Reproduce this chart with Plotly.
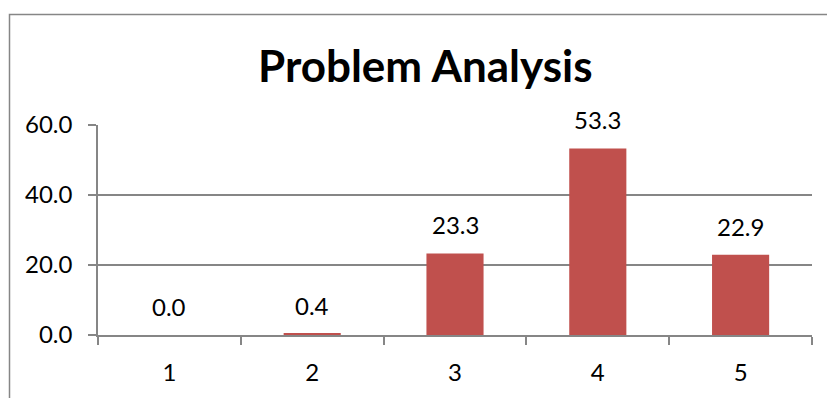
import plotly.graph_objects as go

# Problem analysis scores per category
categories = ["1", "2", "3", "4", "5"]
values = [0.0, 0.4, 23.3, 53.3, 22.9]
y_ticks = [0, 20, 40, 60]
y_tick_text = ["0.0", "20.0", "40.0", "60.0"]

BAR = "#C0504D"
AXIS = "#868686"
FONT = "Lato, 'Open Sans', sans-serif"

W, H = 827, 398
L, R, T, B = 98, 15, 125, 60
pw, ph = W - L - R, H - T - B

fig = go.Figure(
    go.Bar(
        x=categories,
        y=values,
        width=0.4,
        marker=dict(color=BAR, line=dict(width=0)),
        hoverinfo="x+y",
    )
)

# value labels above each bar (x given as category index)
for i, v in enumerate(values):
    fig.add_annotation(
        x=i, y=v, text=f"{v:.1f}", showarrow=False,
        yanchor="bottom", yshift=12,
        font=dict(family=FONT, size=24, color="#000000"),
    )

# chart title
fig.add_annotation(
    x=(425 - L) / pw, y=(H - B - 64) / ph, xref="paper", yref="paper",
    text="<b>Problem Analysis</b>", showarrow=False,
    xanchor="center", yanchor="middle",
    font=dict(family=FONT, size=44, color="#000000"),
)

# outer chart border
fig.add_shape(
    type="rect", xref="paper", yref="paper",
    x0=(9.5 - L) / pw, x1=(W + 20 - L) / pw,
    y0=-(B + 20) / ph, y1=(H - B - 13) / ph,
    line=dict(color=AXIS, width=1.5), fillcolor="rgba(0,0,0,0)",
    layer="below",
)

fig.update_layout(
    width=W, height=H,
    margin=dict(l=L, r=R, t=T, b=B, pad=0),
    paper_bgcolor="white", plot_bgcolor="white",
    showlegend=False,
    font=dict(family=FONT, size=24, color="#000000"),
    xaxis=dict(
        type="category",
        range=[-0.5, len(categories) - 0.5],
        tickson="boundaries",
        ticks="outside", ticklen=8, tickcolor=AXIS, tickwidth=1.5,
        showline=True, linecolor=AXIS, linewidth=1.5,
        showgrid=False, zeroline=False,
        tickfont=dict(family=FONT, size=24, color="#000000"),
        ticklabelstandoff=15,
    ),
    yaxis=dict(
        range=[0, 60],
        tickvals=y_ticks, ticktext=y_tick_text,
        ticks="outside", ticklen=8, tickcolor=AXIS, tickwidth=1.5,
        showline=True, linecolor=AXIS, linewidth=1.5,
        showgrid=True, gridcolor=AXIS, gridwidth=1.5,
        zeroline=False,
        tickfont=dict(family=FONT, size=24, color="#000000"),
        ticklabelstandoff=11,
    ),
)

fig.write_html("out.html")
